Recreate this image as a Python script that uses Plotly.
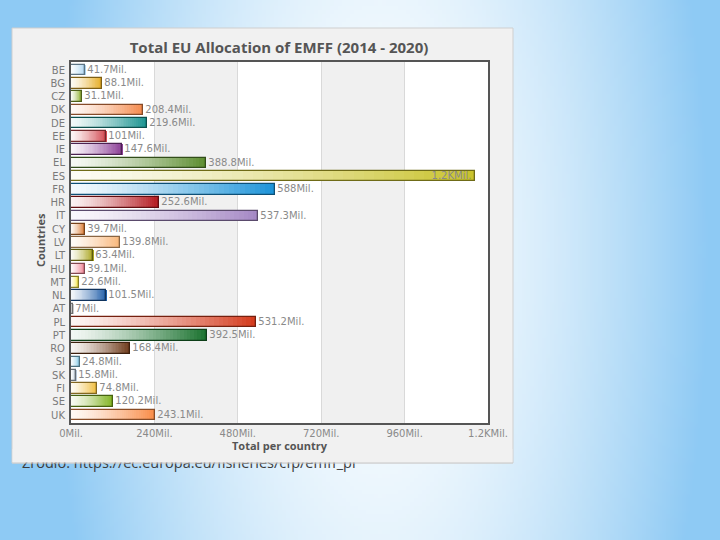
import base64, struct, zlib
import numpy as np
import plotly.graph_objects as go

# ---------------- data ----------------
countries = ["BE", "BG", "CZ", "DK", "DE", "EE", "IE", "EL", "ES", "FR", "HR", "IT", "CY", "LV",
             "LT", "HU", "MT", "NL", "AT", "PL", "PT", "RO", "SI", "SK", "FI", "SE", "UK"]
values = [41.7, 88.1, 31.1, 208.4, 219.6, 101, 147.6, 388.8, 1161.6, 588, 252.6, 537.3, 39.7, 139.8,
          63.4, 39.1, 22.6, 101.5, 7, 531.2, 392.5, 168.4, 24.8, 15.8, 74.8, 120.2, 243.1]
bar_colors = ["#a9d3f0", "#e6ad24", "#8cad2c", "#f4884a", "#15918e", "#d2474f", "#8b3d96", "#5b8c2e",
              "#c9c22a", "#1992d8", "#b3161d", "#a487c4", "#d9782f", "#f9b77a", "#a8a31b", "#ee8394",
              "#f3e644", "#1d5ca8", "#c8c8c8", "#d43a1c", "#17702c", "#6e3a1a", "#8ccde9", "#b8c6d6",
              "#efbc3a", "#7fb21e", "#f98b45"]
x_ticks = [0, 240, 480, 720, 960, 1200]
x_tick_labels = ["0Mil.", "240Mil.", "480Mil.", "720Mil.", "960Mil.", "1.2KMil."]
title_text = "Total EU Allocation of EMFF (2014 - 2020)"
source_text = "Źródło: https://ec.europa.eu/fisheries/cfp/emff_pl"


def fmt(v):
    if v >= 1000:
        return f"{v/1000:.1f}KMil."
    return f"{v:g}Mil."


labels = [fmt(v) for v in values]

# ---------------- geometry (pixels) ----------------
W, H = 720, 540
L, R, T, B = 71, 488, 62, 423
n = len(countries)
step = (415 - 70) / (n - 1)
y_top = -(70 - T) / step
y_bot = (n - 1) + (B - 415) / step


def px(x):
    return x / W


def py(y):
    return 1 - y / H


def hex2rgb(h):
    h = h.lstrip("#")
    return np.array([int(h[i:i + 2], 16) for i in (0, 2, 4)], dtype=float)


def rgb(c):
    c = np.clip(c, 0, 255).round().astype(int)
    return f"rgb({c[0]},{c[1]},{c[2]})"


# ---------------- background image (slide gradient) ----------------
IW, IH = 180, 135
xs = (np.arange(IW) + 0.5) / IW * W
ys = (np.arange(IH) + 0.5) / IH * H
X, Y = np.meshgrid(xs, ys)
d = np.sqrt(((X - 380) / 330) ** 2 + ((Y - 250) / 800) ** 2)
t = np.clip(d, 0, 1) ** 1.6
blue = np.array([142, 202, 244], dtype=float)
white = np.array([252, 254, 255], dtype=float)
img = (white[None, None, :] * (1 - t[..., None]) + blue[None, None, :] * t[..., None]).astype(np.uint8)
raw = b"".join(b"\x00" + img[r].tobytes() for r in range(IH))


def chunk(tag, data):
    return struct.pack(">I", len(data)) + tag + data + struct.pack(">I", zlib.crc32(tag + data) & 0xffffffff)


png = b"\x89PNG\r\n\x1a\n" + chunk(b"IHDR", struct.pack(">IIBBBBB", IW, IH, 8, 2, 0, 0, 0)) \
    + chunk(b"IDAT", zlib.compress(raw, 9)) + chunk(b"IEND", b"")
bg_uri = "data:image/png;base64," + base64.b64encode(png).decode()

# ---------------- figure ----------------
fig = go.Figure()
ypos = list(range(n))
NSEG = 40
for k in range(NSEG):
    frac = (k + 0.5) / NSEG
    mix = 0.05 + 0.95 * frac ** 1.3
    cols = [rgb(np.array([255, 255, 255]) * (1 - mix) + hex2rgb(c) * mix) for c in bar_colors]
    # each layer runs from its start to the bar end; later (darker) layers cover the right part
    fig.add_trace(go.Bar(
        y=ypos, x=[v * (NSEG - k) / NSEG for v in values], base=[v * k / NSEG for v in values],
        orientation="h", width=0.8, marker=dict(color=cols, line=dict(width=0)),
        hoverinfo="skip", showlegend=False))

outline_cols = [rgb(hex2rgb(c) * 0.55) for c in bar_colors]
positions = ["inside" if v >= 1000 else "outside" for v in values]
fig.add_trace(go.Bar(
    y=ypos, x=values, orientation="h", width=0.8,
    marker=dict(color="rgba(0,0,0,0)", line=dict(color=outline_cols, width=1.3)),
    text=labels, textposition=positions, insidetextanchor="end", constraintext="none",
    textfont=dict(family="DejaVu Sans", size=10, color="#8a8a8a"),
    outsidetextfont=dict(family="DejaVu Sans", size=10, color="#8a8a8a"),
    insidetextfont=dict(family="DejaVu Sans", size=10, color="#8a8a8a"),
    cliponaxis=False, showlegend=False, hoverinfo="x+y"))

# source caption (partly hidden by the chart panel), on a full-canvas overlay subplot
fig.add_trace(go.Scatter(
    x=[22], y=[464.5], mode="text", text=[source_text], textposition="middle right",
    textfont=dict(family="Open Sans", size=14.5, color="#3c3c3c"),
    xaxis="x2", yaxis="y2", cliponaxis=False, showlegend=False, hoverinfo="skip"))

dom_x = [px(L), px(R)]
dom_y = [py(B), py(T)]

shapes = [
    dict(type="rect", xref="paper", yref="paper", layer="below",
         x0=px(12), x1=px(513), y0=py(463), y1=py(28),
         fillcolor="#f1f1f1", line=dict(color="#cfcfcf", width=1)),
]
band_fill = ["#ffffff", "#f0f0f0", "#ffffff", "#f0f0f0", "#ffffff"]
for i in range(len(x_ticks) - 1):
    shapes.append(dict(type="rect", xref="x", yref="paper", layer="below",
                       x0=x_ticks[i], x1=x_ticks[i + 1], y0=dom_y[0], y1=dom_y[1],
                       fillcolor=band_fill[i], line=dict(width=0)))
shapes.append(dict(type="rect", xref="paper", yref="paper", layer="above",
                   x0=px(12.6), x1=px(512.4), y0=py(462.6), y1=py(449),
                   fillcolor="#f1f1f1", line=dict(width=0)))
shapes.append(dict(type="line", xref="paper", yref="paper", layer="above",
                   x0=px(12), x1=px(513), y0=py(463), y1=py(463),
                   line=dict(color="#cfcfcf", width=1)))

fig.update_layout(
    width=W, height=H, autosize=False,
    margin=dict(l=0, r=0, t=0, b=0, pad=0, autoexpand=False),
    paper_bgcolor="#bfe0f8", plot_bgcolor="rgba(0,0,0,0)",
    barmode="overlay", bargap=0,
    title=dict(text=f"<b>{title_text}</b>", xref="container", yref="container",
               x=279 / W, y=1 - 48 / H, xanchor="center", yanchor="middle",
               font=dict(family="Open Sans", size=15, color="#555555")),
    xaxis=dict(domain=dom_x, range=[0, 1200], tickvals=x_ticks, ticktext=x_tick_labels,
               showline=True, mirror=True, linecolor="#555555", linewidth=2,
               showgrid=True, gridcolor="#d9d9d9", gridwidth=1, zeroline=False,
               ticks="", ticklabelstandoff=0, automargin=False,
               tickfont=dict(family="DejaVu Sans", size=10, color="#8a8a8a")),
    yaxis=dict(domain=dom_y, range=[y_bot, y_top], tickvals=ypos, ticktext=countries,
               showline=True, mirror=True, linecolor="#555555", linewidth=2,
               showgrid=False, zeroline=False, ticks="", ticklabelstandoff=2, automargin=False,
               tickfont=dict(family="DejaVu Sans", size=10, color="#7a7a7a")),
    xaxis2=dict(domain=[0, 1], range=[0, W], visible=False, anchor="y2", automargin=False),
    yaxis2=dict(domain=[0, 1], range=[H, 0], visible=False, anchor="x2", automargin=False),
    images=[dict(source=bg_uri, xref="paper", yref="paper", x=0, y=1,
                 sizex=1, sizey=1, xanchor="left", yanchor="top",
                 sizing="stretch", layer="below")],
    shapes=shapes,
    annotations=[
        dict(text="<b>Countries</b>", xref="paper", yref="paper", x=px(40), y=py(240),
             textangle=-90, showarrow=False, xanchor="center", yanchor="middle",
             font=dict(family="Open Sans", size=11, color="#555555")),
        dict(text="<b>Total per country</b>", xref="paper", yref="paper", x=px(280), y=py(445),
             showarrow=False, xanchor="center", yanchor="middle",
             font=dict(family="Open Sans", size=11, color="#555555")),
    ],
)

fig.write_html("out.html", config={"displayModeBar": False},
               post_script="document.body.style.margin='0px';document.body.style.overflow='hidden';")
